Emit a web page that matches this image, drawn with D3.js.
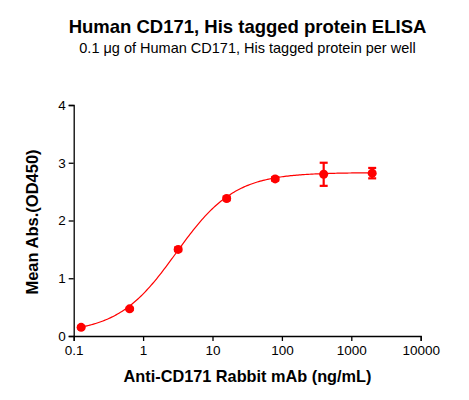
<!DOCTYPE html>
<html>
<head>
<meta charset="utf-8">
<script src="https://cdn.jsdelivr.net/npm/d3@7"></script>
<style>
  body { margin: 0; background: #fff; }
  svg text { font-family: "Liberation Sans", Arial, sans-serif; }
</style>
</head>
<body>
<svg id="chart" width="469" height="400"></svg>
<script>
// dados
const concentracoes = [0.128, 0.64, 3.2, 16, 80, 400, 2000];
const absorbancias = [0.15, 0.47, 1.50, 2.38, 2.72, 2.80, 2.82];
const erros = [0.02, 0.02, 0.03, 0.03, 0.03, 0.20, 0.09];
const xTicks = [0.1, 1, 10, 100, 1000, 10000];
const xTickLabels = ["0.1", "1", "10", "100", "1000", "10000"];
const yTicks = [0, 1, 2, 3, 4];
// parâmetros do ajuste 4PL
const ajuste = { bottom: 0.05, top: 2.83, ec50: 3.0, hill: 1.03 };

const svg = d3.select("#chart");
const vermelho = "#ff0000";
const fonte = "'Liberation Sans', Arial, sans-serif";

const x = d3.scaleLog().domain([0.1, 10000]).range([73.7, 420.7]);
const y = d3.scaleLinear().domain([0, 4]).range([336, 105]);

// Títulos
svg.append("text")
    .attr("x", 247.5).attr("y", 33)
    .attr("text-anchor", "middle")
    .attr("font-size", "18.5px").attr("font-weight", "bold")
    .text("Human CD171, His tagged protein ELISA");

svg.append("text")
    .attr("x", 247.5).attr("y", 53)
    .attr("text-anchor", "middle")
    .attr("font-size", "14.5px")
    .text("0.1 \u03bcg of Human CD171, His tagged protein per well");

// Eixos
const eixoX = svg.append("g")
    .attr("transform", "translate(0,336)")
    .call(d3.axisBottom(x).tickValues(xTicks)
        .tickFormat((d, i) => xTickLabels[i]).tickSize(5).tickPadding(4));

const eixoY = svg.append("g")
    .attr("transform", "translate(73.7,0)")
    .call(d3.axisLeft(y).tickValues(yTicks).tickFormat(d3.format("d"))
        .tickSize(5).tickPadding(3));

[eixoX, eixoY].forEach(g => {
    g.select(".domain").attr("stroke", "#000").attr("stroke-width", 1.3);
    g.selectAll(".tick line").attr("stroke", "#000").attr("stroke-width", 1.3);
    g.selectAll(".tick text").attr("font-size", "13.5px").attr("fill", "#000")
        .attr("font-family", fonte);
});

// Rótulos dos eixos
svg.append("text")
    .attr("x", 247.5).attr("y", 382)
    .attr("text-anchor", "middle")
    .attr("font-size", "16.3px").attr("font-weight", "bold")
    .text("Anti-CD171 Rabbit mAb (ng/mL)");

svg.append("text")
    .attr("transform", "translate(38,222) rotate(-90)")
    .attr("text-anchor", "middle")
    .attr("font-size", "16.5px").attr("font-weight", "bold")
    .text("Mean Abs.(OD450)");

// Curva ajustada
const f = c => ajuste.bottom + (ajuste.top - ajuste.bottom) / (1 + Math.pow(ajuste.ec50 / c, ajuste.hill));
const lMin = Math.log10(concentracoes[0]);
const lMax = Math.log10(concentracoes[concentracoes.length - 1]);
const curva = d3.range(0, 201).map(i => {
    const c = Math.pow(10, lMin + i / 200 * (lMax - lMin));
    return [c, f(c)];
});

svg.append("path")
    .datum(curva)
    .attr("fill", "none")
    .attr("stroke", vermelho)
    .attr("stroke-width", 1.2)
    .attr("d", d3.line().x(d => x(d[0])).y(d => y(d[1])));

// Barras de erro
const dados = concentracoes.map((c, i) => ({ c: c, v: absorbancias[i], e: erros[i] }));
const barras = svg.append("g").attr("stroke", vermelho).attr("stroke-width", 2.2);
dados.forEach(d => {
    const cx = x(d.c);
    barras.append("line").attr("x1", cx).attr("x2", cx)
        .attr("y1", y(d.v - d.e)).attr("y2", y(d.v + d.e));
    [d.v - d.e, d.v + d.e].forEach(v => {
        barras.append("line").attr("x1", cx - 4).attr("x2", cx + 4)
            .attr("y1", y(v)).attr("y2", y(v));
    });
});

// Pontos
svg.append("g").selectAll("circle")
    .data(dados)
    .join("circle")
    .attr("cx", d => x(d.c))
    .attr("cy", d => y(d.v))
    .attr("r", 4.5)
    .attr("fill", vermelho);
</script>
</body>
</html>
